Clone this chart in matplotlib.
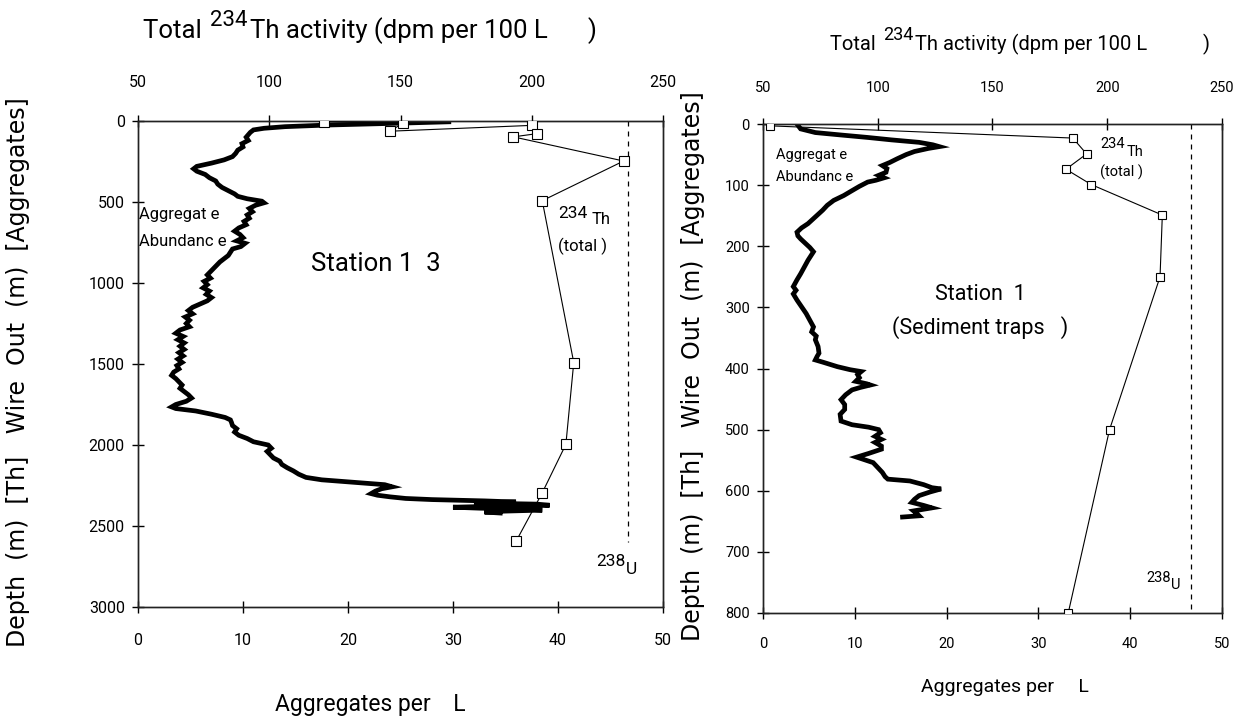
import matplotlib
matplotlib.use("Agg")
import matplotlib.pyplot as plt
import numpy as np

# ---------------- data ----------------
# Station 13: total 234Th (dpm per 100 L) vs depth (m)
th13_depth = [5, 12, 63, 27, 78, 98, 247, 492, 1491, 1996, 2295, 2595]
th13_value = [121, 151, 146, 200, 202, 193, 235, 204, 216, 213, 204, 194]
# Station 13: aggregate abundance (aggregates per L) vs wire out (m)
agg13_depth = [5, 15, 25, 35, 45, 55, 70, 85, 100, 120, 140, 160, 180, 200, 220, 240,
               260, 280, 295, 310, 330, 350, 370, 390, 410, 430, 450, 465, 480, 495,
               505, 520, 540, 560, 580, 600, 620, 640, 660, 680, 700, 720, 740, 755,
               775, 790, 810, 830, 850, 870, 890, 910, 930, 950, 970, 990, 1010, 1030,
               1050, 1070, 1090, 1110, 1130, 1150, 1170, 1190, 1210, 1230, 1250, 1270,
               1290, 1310, 1330, 1350, 1370, 1390, 1410, 1430, 1450, 1470, 1490, 1510,
               1530, 1550, 1570, 1590, 1610, 1630, 1650, 1670, 1690, 1710, 1730, 1750,
               1765, 1775, 1790, 1810, 1830, 1845, 1860, 1880, 1900, 1920, 1940, 1960,
               1980, 2000, 2020, 2040, 2060, 2080, 2100, 2120, 2140, 2160, 2180, 2200,
               2215, 2225, 2235, 2245, 2258, 2270, 2285, 2300, 2310, 2320, 2330, 2337,
               2345, 2352, 2358, 2365, 2372, 2378, 2384, 2390, 2396, 2402, 2408, 2414, 2420]
agg13_value = [29.6, 24.0, 18.0, 14.0, 12.0, 11.0, 10.7, 10.5, 10.3, 10.5, 9.9, 10.0,
               9.5, 9.3, 9.0, 8.2, 7.0, 5.6, 5.3, 5.6, 6.4, 6.8, 7.4, 7.6, 8.0, 8.6, 9.2,
               9.5, 10.4, 11.8, 12.0, 11.2, 10.6, 10.9, 10.4, 10.6, 10.1, 10.3, 9.6, 9.2,
               9.7, 10.0, 9.4, 10.2, 9.8, 9.0, 8.8, 8.6, 8.2, 7.8, 7.5, 7.2, 6.9, 6.6,
               6.9, 6.3, 6.6, 6.2, 6.8, 6.5, 7.0, 6.6, 5.9, 5.2, 4.8, 5.2, 4.5, 4.9, 4.6,
               4.9, 4.0, 3.6, 4.3, 3.8, 4.4, 4.0, 4.4, 3.9, 4.3, 3.8, 4.2, 3.7, 3.9, 3.4,
               3.2, 3.6, 3.9, 4.2, 4.0, 4.4, 4.8, 5.1, 4.6, 3.6, 3.2, 3.6, 5.5, 7.0, 8.3,
               8.8, 8.9, 9.0, 9.4, 9.2, 9.6, 10.4, 11.0, 12.4, 12.7, 12.3, 12.6, 12.9,
               13.5, 13.7, 14.2, 14.8, 15.3, 16.0, 17.5, 19.5, 21.5, 23.5, 24.2, 23.2,
               22.6, 22.2, 22.8, 24.0, 25.5, 28.0, 33.0, 36.0, 32.0, 38.0, 39.2, 34.0,
               30.0, 32.5, 37.0, 38.5, 35.0, 33.0, 34.5]

# Station 1: total 234Th (dpm per 100 L) vs depth (m)
th1_depth = [3, 23, 49, 74, 99, 149, 250, 500, 800]
th1_value = [53, 185, 191, 182, 193, 224, 223, 201, 183]
# Station 1: aggregate abundance (aggregates per L) vs wire out (m)
agg1_depth = [0, 8, 14, 18, 22, 26, 30, 34, 37, 40, 45, 50, 57, 63, 68, 73, 79, 84, 88,
              92, 95, 102, 109, 117, 125, 133, 141, 152, 163, 170, 177, 183, 188, 195,
              202, 209, 216, 223, 234, 245, 255, 266, 272, 278, 288, 299, 310, 321, 332,
              340, 347, 353, 364, 375, 380, 386, 390, 397, 402, 405, 410, 415, 421, 425,
              427, 431, 435, 443, 451, 459, 467, 475, 486, 492, 496, 500, 505, 511, 516,
              521, 527, 532, 539, 545, 550, 554, 562, 570, 577, 581, 584, 590, 595, 597,
              602, 608, 614, 619, 624, 628, 633, 638, 641, 643]
agg1_value = [3.7, 4.1, 5.7, 8.5, 11.4, 14.0, 17.0, 18.5, 19.2, 18.0, 16.5, 15.6, 14.6,
              13.8, 13.0, 13.5, 13.4, 12.6, 13.2, 12.3, 11.4, 10.5, 9.7, 8.8, 7.7, 7.0,
              6.5, 5.7, 4.9, 4.2, 3.7, 3.8, 4.1, 4.6, 5.1, 5.5, 5.2, 4.9, 4.5, 4.1, 3.7,
              3.3, 3.6, 3.3, 3.7, 4.2, 4.7, 5.1, 5.5, 5.3, 5.8, 5.7, 6.0, 6.1, 5.9, 5.7,
              6.6, 8.1, 9.5, 10.7, 10.3, 10.5, 10.1, 11.3, 11.7, 10.6, 9.7, 9.0, 8.5,
              8.9, 8.9, 8.4, 8.5, 9.7, 11.5, 12.6, 12.8, 12.2, 12.9, 12.2, 12.9, 12.9,
              11.5, 10.2, 11.2, 12.0, 12.5, 13.0, 13.3, 13.6, 16.0, 17.5, 18.4, 19.4,
              18.2, 17.0, 16.5, 16.2, 17.5, 18.4, 16.4, 16.8, 17.0, 15.2]

u238_activity = 236.5          # dpm per 100 L (dashed line)
u238_depth13 = [0, 2600]
u238_depth1 = [0, 800]

agg_ticks = [0, 10, 20, 30, 40, 50]
th_ticks = [50, 100, 150, 200, 250]
depth13_ticks = [0, 500, 1000, 1500, 2000, 2500, 3000]
depth1_ticks = [0, 100, 200, 300, 400, 500, 600, 700, 800]

# ---------------- style ----------------
NARROW = ['Roboto', 'DejaVu Sans']
W, H = 1247, 726
fig = plt.figure(figsize=(W / 100, H / 100), dpi=100)
renderer = fig.canvas.get_renderer()


def ftext(x, y, s, size, ha='left', va='center', family=NARROW, rot=0):
    return fig.text(x / W, 1 - y / H, s, fontsize=size, ha=ha, va=va,
                    family=family, rotation=rot)


def title_row(x0, y, main_size, sup_size, sup_dy, paren_x):
    # "Total 234Th activity (dpm per 100 L    )" with raised 234
    t = ftext(x0, y, 'Total ', main_size)
    x = x0 + t.get_window_extent(renderer).width + 2
    t = ftext(x, y - sup_dy, '234', sup_size)
    x = x + t.get_window_extent(renderer).width + 2
    ftext(x, y, 'Th activity (dpm per 100 L', main_size)
    ftext(paren_x, y, ')', main_size)


def make_panel(rect, depth_max, depth_ticks, lab_size, top_pad, bot_pad, left_pad):
    ax = fig.add_axes(rect)
    ax.set_xlim(0, 50)
    ax.set_ylim(depth_max, 0)
    ax.set_xticks(agg_ticks)
    ax.set_yticks(depth_ticks)
    ax.tick_params(axis='x', direction='inout', length=9, width=1,
                   labelsize=lab_size, pad=bot_pad)
    ax.tick_params(axis='y', direction='inout', length=9, width=1,
                   labelsize=lab_size, pad=left_pad)
    axt = ax.twiny()
    axt.set_xlim(50, 250)
    axt.set_xticks(th_ticks)
    axt.tick_params(axis='x', direction='inout', length=9, width=1,
                    labelsize=lab_size, pad=top_pad)
    for a in (ax, axt):
        for sp in a.spines.values():
            sp.set_linewidth(1.0)
            sp.set_color('#222222')
        for lab in a.get_xticklabels() + a.get_yticklabels():
            lab.set_family(NARROW)
    return ax, axt


# ---------------- left panel: Station 13 ----------------
axL, axLt = make_panel([138 / W, 1 - 607 / H, (663 - 138) / W, (607 - 121) / H],
                       3000, depth13_ticks, 11.5, 18, 14, 5)
axL.plot(agg13_value, agg13_depth, color='black', lw=3.4, solid_joinstyle='miter',
         zorder=2)
axLt.plot(th13_value, th13_depth, color='black', lw=0.8, marker='s', ms=6.5,
          mfc='white', mec='black', mew=0.8, zorder=3)
axLt.plot([u238_activity, u238_activity], u238_depth13, color='black', lw=0.9,
          ls=(0, (4, 4)))

# ---------------- right panel: Station 1 ----------------
axR, axRt = make_panel([763 / W, 1 - 613 / H, (1222 - 763) / W, (613 - 124) / H],
                       800, depth1_ticks, 10.5, 16.5, 13, 5)
axR.plot(agg1_value, agg1_depth, color='black', lw=3.4, solid_joinstyle='miter',
         zorder=2)
axRt.plot(th1_value, th1_depth, color='black', lw=0.8, marker='s', ms=6,
          mfc='white', mec='black', mew=0.8, zorder=3)
axRt.plot([u238_activity, u238_activity], u238_depth1, color='black', lw=0.9,
          ls=(0, (4, 4)))

# ---------------- titles / labels ----------------
YLAB = 'Depth  (m)  [Th]   Wire  Out  (m)  [Aggregates]'
# left panel
title_row(143, 31, 18.5, 16, 10, 588)
ftext(275, 705, 'Aggregates per    L', 16.5)
ftext(18, 372, YLAB, 17, ha='center', family=['DejaVu Sans'], rot=90)

# right panel
title_row(830, 44, 14.5, 13, 9, 1203)
ftext(921, 687, 'Aggregates per     L', 14)
ftext(693, 366, YLAB, 17, ha='center', family=['DejaVu Sans'], rot=90)

# annotations left
ftext(139, 215, 'Aggregat e', 12)
ftext(139, 241, 'Abundanc e', 12)
ftext(376, 264, 'Station 1  3', 18.5, ha='center')
ftext(558, 213, '234', 12.5)
ftext(592, 219, 'Th', 12)
ftext(558, 246, '(total )', 12)
ftext(596, 562, '238', 12.5)
ftext(626, 570, 'U', 12.5)

# annotations right
ftext(776, 155, 'Aggregat e', 10.5)
ftext(776, 177, 'Abundanc e', 10.5)
ftext(980, 294, 'Station  1', 15.5, ha='center')
ftext(980, 328, '(Sediment traps   )', 15.5, ha='center')
ftext(1100, 144, '234', 10.5)
ftext(1127, 152, 'Th', 10.5)
ftext(1100, 172, '(total )', 10.5)
ftext(1146, 578, '238', 10.5)
ftext(1171, 585, 'U', 10.5)

fig.savefig('out.png', dpi=100)
